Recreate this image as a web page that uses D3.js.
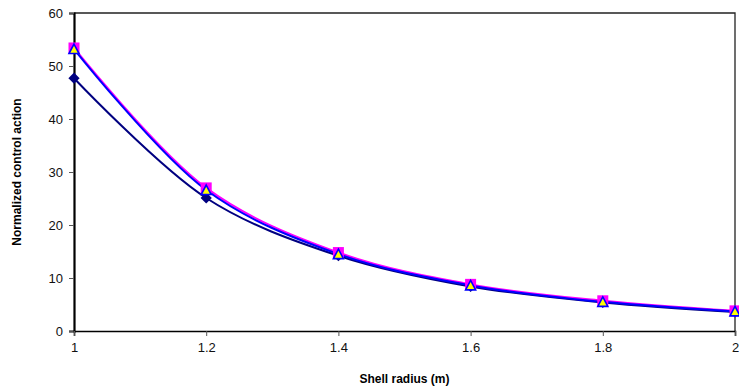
<!DOCTYPE html>
<html>
<head>
<meta charset="utf-8">
<script src="https://cdn.jsdelivr.net/npm/d3@7/dist/d3.min.js"></script>
<style>
  html, body { margin: 0; padding: 0; background: #fff; }
  svg { display: block; font-family: "Liberation Sans", Arial, sans-serif; }
</style>
</head>
<body>
<svg id="chart" width="739" height="390"></svg>
<script>
// Shell radius (m)
const radius = [1, 1.2, 1.4, 1.6, 1.8, 2];
// Normalized control action for the three cases
const seriesA = [47.7, 25.1, 14.2, 8.4, 5.4, 3.6];
const seriesB = [53.4, 27.0, 14.8, 8.8, 5.7, 3.8];
const seriesC = [53.2, 26.6, 14.5, 8.6, 5.5, 3.7];
const xTicks = [1, 1.2, 1.4, 1.6, 1.8, 2];
const yTicks = [0, 10, 20, 30, 40, 50, 60];

const svg = d3.select("#chart");
const L = 74, R = 735, T = 13, B = 331;

const x = d3.scaleLinear().domain([1, 2]).range([L, R]);
const y = d3.scaleLinear().domain([0, 60]).range([B, T]);

// plot frame (top and right)
svg.append("path")
  .attr("d", `M${L},${T}H${R}V${B}`)
  .attr("fill", "none").attr("stroke", "#222").attr("stroke-width", 1.3);

// y axis
const yAxis = svg.append("g").attr("transform", `translate(${L},0)`)
  .call(d3.axisLeft(y).tickValues(yTicks).tickSize(5).tickPadding(6).tickFormat(d3.format("d")));
yAxis.select(".domain").attr("stroke", "#000").attr("stroke-width", 2.2);
yAxis.selectAll(".tick line").attr("stroke", "#555");
yAxis.selectAll("text").attr("font-size", 13).attr("fill", "#111")
  .attr("font-family", "Liberation Sans, Arial, sans-serif");

// x axis
const xAxis = svg.append("g").attr("transform", `translate(0,${B})`)
  .call(d3.axisBottom(x).tickValues(xTicks).tickSize(5).tickPadding(7).tickFormat(d => d3.format("")(+d.toFixed(1))));
xAxis.select(".domain").attr("stroke", "#000").attr("stroke-width", 1.6);
xAxis.selectAll(".tick line").attr("stroke", "#555");
xAxis.selectAll("text").attr("font-size", 13).attr("fill", "#111")
  .attr("font-family", "Liberation Sans, Arial, sans-serif");

// axis titles
svg.append("text")
  .attr("x", (L + R) / 2).attr("y", 383)
  .attr("text-anchor", "middle").attr("font-size", 12).attr("font-weight", "bold")
  .text("Shell radius (m)");
svg.append("text")
  .attr("transform", `translate(21,${(T + B) / 2}) rotate(-90)`)
  .attr("text-anchor", "middle").attr("font-size", 12).attr("font-weight", "bold")
  .text("Normalized control action");

const line = d3.line()
  .x((d, i) => x(radius[i]))
  .y(d => y(d))
  .curve(d3.curveCatmullRom.alpha(0.5));

const series = [
  { values: seriesA, stroke: "#000080" },
  { values: seriesB, stroke: "#FF00FF" },
  { values: seriesC, stroke: "#0000FF" }
];

series.forEach(s => {
  svg.append("path")
    .datum(s.values)
    .attr("fill", "none")
    .attr("stroke", s.stroke)
    .attr("stroke-width", 2)
    .attr("d", line);
});

// diamonds
svg.append("g").selectAll("path")
  .data(seriesA).join("path")
  .attr("transform", (d, i) => `translate(${x(radius[i])},${y(d)})`)
  .attr("d", d3.symbol(d3.symbolDiamond2, 80))
  .attr("fill", "#000080");

// squares
svg.append("g").selectAll("rect")
  .data(seriesB).join("rect")
  .attr("x", (d, i) => x(radius[i]) - 5.5)
  .attr("y", d => y(d) - 5.5)
  .attr("width", 11).attr("height", 11)
  .attr("fill", "#FF00FF");

// triangles
svg.append("g").selectAll("path")
  .data(seriesC).join("path")
  .attr("transform", (d, i) => `translate(${x(radius[i])},${y(d) + 0.5})`)
  .attr("d", "M0,-5.5L5,4L-5,4Z")
  .attr("fill", "#FFFF00")
  .attr("stroke", "#0000FF")
  .attr("stroke-width", 1.6)
  .attr("stroke-linejoin", "miter");
</script>
</body>
</html>
